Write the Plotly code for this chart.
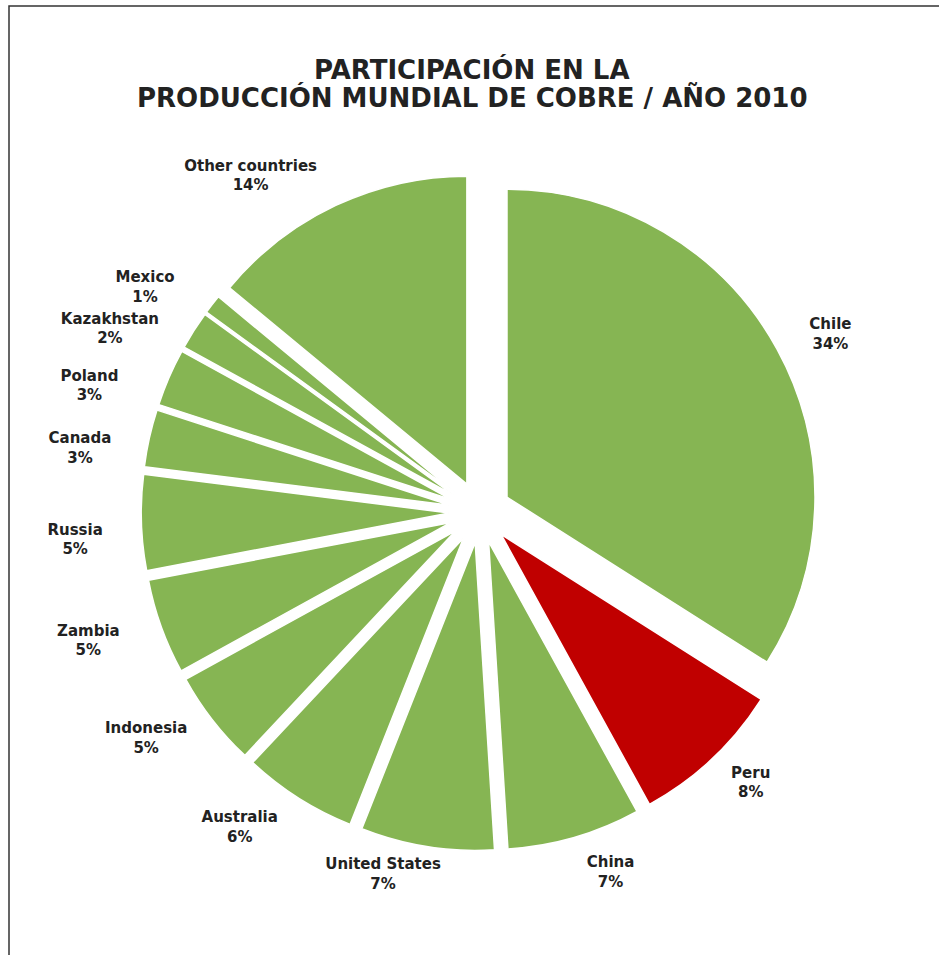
import plotly.graph_objects as go

# Copper production share by country, 2010 (percent)
countries = ["Chile", "Peru", "China", "United States", "Australia", "Indonesia",
             "Zambia", "Russia", "Canada", "Poland", "Kazakhstan", "Mexico",
             "Other countries"]
shares = [34, 8, 7, 7, 6, 5, 5, 5, 3, 3, 2, 1, 14]

title_lines = ["PARTICIPACIÓN EN LA", "PRODUCCIÓN MUNDIAL DE COBRE / AÑO 2010"]

GREEN = "#86b553"
RED = "#c00000"
colors = [RED if c == "Peru" else GREEN for c in countries]
pulls = [0.1] * len(countries)

W, H = 939, 955
cx, cy, r = 480, 512, 308          # pie centre (px from top-left) and radius
half = r * (1 + max(pulls))

BOLD = "DejaVu Sans, Verdana, sans-serif"
LABEL_FONT = dict(family=BOLD, size=15, color="#222222")
TEMPLATE = "<b>%{label}</b><br><b>%{percent:.0%}</b>"

# invisible rings that carry the outside labels: (centre x, centre y, radius, members)
label_rings = [
    (478, 513, 356, {"Peru", "China", "Australia", "Indonesia", "Other countries"}),
    (488, 510, 356, {"Chile"}),
    (506, 504, 356, {"United States"}),
    (464, 518, 356, {"Zambia"}),
    (474, 528, 362, {"Russia", "Canada", "Kazakhstan"}),
    (460, 532, 362, {"Poland"}),
    (470, 516, 362, {"Mexico"}),
]


def domain(x0, y0, h):
    return dict(x=[(x0 - h) / W, (x0 + h) / W],
                y=[(H - y0 - h) / H, (H - y0 + h) / H])


fig = go.Figure()

# exploded slices
fig.add_trace(go.Pie(
    labels=countries, values=shares, sort=False, direction="clockwise",
    rotation=0, pull=pulls,
    marker=dict(colors=colors, line=dict(color="white", width=1.5)),
    textinfo="none", showlegend=False, domain=domain(cx, cy, half),
))

for lx, ly, rl, members in label_rings:
    fig.add_trace(go.Pie(
        labels=countries, values=shares, sort=False, direction="clockwise",
        rotation=0,
        marker=dict(colors=["rgba(0,0,0,0)"] * len(countries), line=dict(width=0)),
        textposition=["outside" if c in members else "none" for c in countries],
        texttemplate=TEMPLATE, outsidetextfont=LABEL_FONT,
        hoverinfo="skip", showlegend=False, domain=domain(lx, ly, rl),
    ))

annotations = []
for i, line in enumerate(title_lines):
    annotations.append(dict(
        text=f"<b>{line}</b>", xref="paper", yref="paper",
        x=472 / W, y=1 - (70 + 28 * i) / H, xanchor="center", yanchor="middle",
        showarrow=False,
        font=dict(family=BOLD, size=26, color="#222222"),
    ))

fig.update_layout(
    width=W, height=H,
    margin=dict(l=0, r=0, t=0, b=0),
    paper_bgcolor="white",
    annotations=annotations,
    shapes=[dict(type="rect", xref="paper", yref="paper",
                 x0=9 / W, x1=1.05, y0=-0.05, y1=1 - 6 / H,
                 line=dict(color="#333333", width=1.5))],
)

fig.write_html("out.html")
